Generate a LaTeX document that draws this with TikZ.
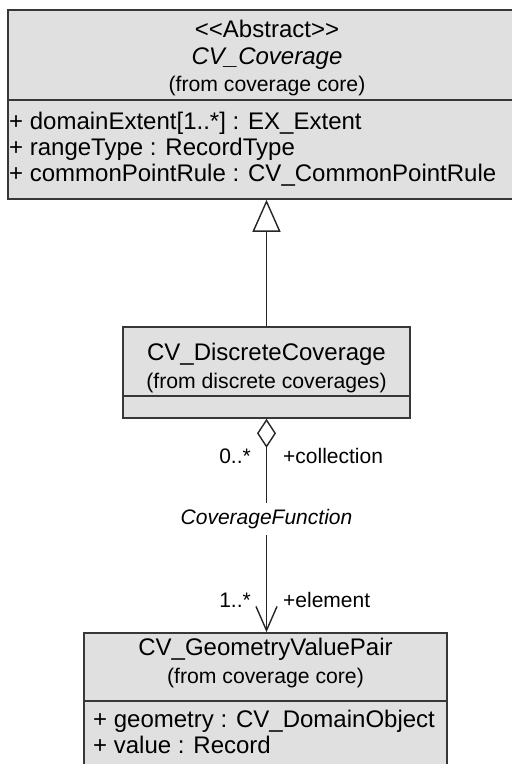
\documentclass[tikz,border=0pt]{standalone}
\usepackage{fontspec}
\setmainfont{Liberation Sans}
\usepackage{xcolor}
\usetikzlibrary{arrows.meta,positioning}
\definecolor{boxfill}{RGB}{224,224,224}
\definecolor{boxedge}{RGB}{55,55,55}

\begin{document}
\begin{tikzpicture}[x=1pt, y=-1pt,
        classbox/.style={draw=boxedge, line width=1.6pt, fill=boxfill, rectangle, inner sep=0pt},
        classsep/.style={draw=boxedge, line width=1.4pt},
        nametext/.style={font=\fontsize{24}{27}\selectfont, inner sep=0pt},
        nameital/.style={font=\fontsize{24}{27}\selectfont\itshape, inner sep=0pt},
        fromtext/.style={font=\fontsize{21.2}{24}\selectfont, inner sep=0pt},
        roletext/.style={font=\fontsize{21}{24}\selectfont, inner sep=0pt},
        rel/.style={draw=black!85, line width=1.4pt}]
        % Canvas
        \clip (0,0) rectangle (512,764);
        \fill[white] (0,0) rectangle (512,764);

        % Separator heights
        \coordinate (sepcov) at (0,100);
        \coordinate (sepdisc) at (0,396);
        \coordinate (seppair) at (0,701);

        % CV_Coverage (abstract, runs off the right edge)
        \node[classbox, minimum width=518pt, minimum height=189pt] (coverage) at (267,104.5) {};
        \draw[classsep] (coverage.west |- sepcov) -- (coverage.east |- sepcov);
        \node[nametext, anchor=base] (covstereo) at (267,37) {<{}<Abstract>{}>};
        \node[nameital, anchor=base] (covname) at (267,64) {CV\_Coverage};
        \node[fromtext, anchor=base] (covfrom) at (267,91) {(from coverage core)};
        \node[nametext, anchor=base west] (covattra) at (9,129) {+ domainExtent[1..*] : EX\_Extent};
        \node[nametext, anchor=base west] (covattrb) at (9,155) {+ rangeType : RecordType};
        \node[nametext, anchor=base west] (covattrc) at (9,181) {+ commonPointRule : CV\_CommonPointRule};

        % CV_DiscreteCoverage
        \node[classbox, minimum width=287pt, minimum height=91pt] (discrete) at (266.5,372.5) {};
        \draw[classsep] (discrete.west |- sepdisc) -- (discrete.east |- sepdisc);
        \node[nametext, anchor=base] (discname) at (266.5,360) {CV\_DiscreteCoverage};
        \node[fromtext, anchor=base] (discfrom) at (266.5,388) {(from discrete coverages)};

        % CV_GeometryValuePair (runs off the bottom edge)
        \node[classbox, minimum width=363pt, minimum height=167pt] (pair) at (265.5,716.5) {};
        \draw[classsep] (pair.west |- seppair) -- (pair.east |- seppair);
        \node[nametext, anchor=base] (pairname) at (265.5,655) {CV\_GeometryValuePair};
        \node[fromtext, anchor=base] (pairfrom) at (265.5,683) {(from coverage core)};
        \node[nametext, anchor=base west] (pairattra) at (93,727) {+ geometry : CV\_DomainObject};
        \node[nametext, anchor=base west] (pairattrb) at (93,753) {+ value : Record};

        % Generalization
        \draw[rel, -{Triangle[open, width=28pt, length=32pt]}] (discrete.north) -- (discrete.north |- coverage.south);

        % Aggregation CoverageFunction
        \draw[rel, {Diamond[open, width=19pt, length=29pt]}-{Straight Barb[width=21pt, length=24pt]}]
            (discrete.south) -- node[pos=0.47, fill=white, inner xsep=2pt, inner ysep=6pt, font=\fontsize{21}{24}\selectfont\itshape] (assocname) {CoverageFunction}
            (discrete.south |- pair.north);

        % Role labels
        \node[roletext, anchor=base east] (collmult) at (251,463) {0..*};
        \node[roletext, anchor=base west] (collrole) at (283,463) {+collection};
        \node[roletext, anchor=base east] (elemmult) at (251,607) {1..*};
        \node[roletext, anchor=base west] (elemrole) at (283,607) {+element};
    \end{tikzpicture}
\end{document}
